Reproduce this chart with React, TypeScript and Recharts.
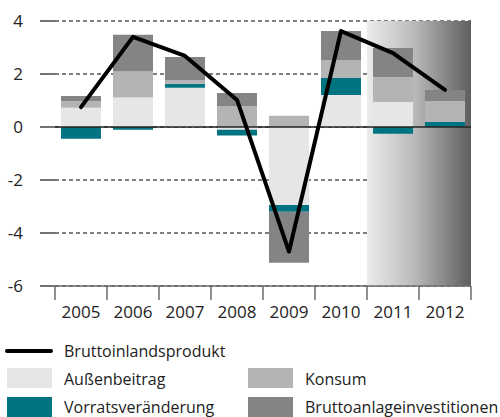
import React from 'react';
import {
  ComposedChart,
  Bar,
  Line,
  XAxis,
  YAxis,
  CartesianGrid,
  ReferenceArea,
  ReferenceLine,
} from 'recharts';

const years = ['2005', '2006', '2007', '2008', '2009', '2010', '2011', '2012'];
const bip = [0.75, 3.4, 2.68, 1.02, -4.7, 3.62, 2.79, 1.4];
const aussenbeitrag = [0.73, 1.11, 1.48, -0.1, -2.94, 1.21, 0.94, 0];
const vorrat = [-0.44, -0.1, 0.15, -0.22, -0.26, 0.64, -0.25, 0.19];
const konsum = [0.25, 0.98, 0.14, 0.79, 0.42, 0.68, 0.95, 0.79];
const brutto = [0.19, 1.39, 0.87, 0.49, -1.92, 1.09, 1.09, 0.42];
const yTicks = [-6, -4, -2, 0, 2, 4];
const forecastYears = ['2011', '2012'];

const data = years.map((y, i) => ({
  year: y,
  bip: bip[i],
  aussen: aussenbeitrag[i],
  vorrat: vorrat[i],
  konsum: konsum[i],
  brutto: brutto[i],
}));

const C_LIGHT = '#e6e6e6';
const C_KONSUM = '#b3b4b6';
const C_TEAL = '#007480';
const C_DARK = '#838485';
const FONT = '"Open Sans", "Noto Sans", sans-serif';

const XTick = (props: any) => {
  const { x, y, payload, index } = props;
  const off = payload.offset ?? 26;
  const last = index === years.length - 1;
  return (
    <g>
      <line x1={x - off} x2={x - off} y1={y} y2={y + 14} stroke="#6b6b6b" strokeWidth={1.5} />
      {last && <line x1={x + off} x2={x + off} y1={y} y2={y + 14} stroke="#6b6b6b" strokeWidth={1.5} />}
      <text x={x} y={y + 32} textAnchor="middle" fill="#222" fontSize={17} fontFamily={FONT}>
        {payload.value}
      </text>
    </g>
  );
};

const legendRow1 = [{ label: 'Bruttoinlandsprodukt' }];
const legendBoxes = [
  { label: 'Außenbeitrag', color: C_LIGHT, col: 0, row: 0 },
  { label: 'Konsum', color: C_KONSUM, col: 1, row: 0 },
  { label: 'Vorratsveränderung', color: C_TEAL, col: 0, row: 1 },
  { label: 'Bruttoanlageinvestitionen', color: C_DARK, col: 1, row: 1 },
];

export default function App() {
  return (
    <div style={{ position: 'absolute', left: 0, top: 0, width: 500, height: 417, overflow: 'hidden', background: '#fff', fontFamily: FONT }}>
      <ComposedChart
        width={500}
        height={417}
        data={data}
        stackOffset="sign"
        margin={{ top: 21, right: 29, bottom: 101, left: 0 }}
        barSize={40}
      >
        <defs>
          <linearGradient id="fcGrad" x1="0" y1="0" x2="1" y2="0">
            <stop offset="0%" stopColor="#ebecec" />
            <stop offset="45%" stopColor="#b9babb" />
            <stop offset="100%" stopColor="#5d5e60" />
          </linearGradient>
        </defs>
        <ReferenceArea
          x1={forecastYears[0]}
          x2={forecastYears[1]}
          y1={-6}
          y2={4}
          fill="url(#fcGrad)"
          fillOpacity={1}
          stroke="none"
        />
        <CartesianGrid vertical={false} stroke="#000" strokeDasharray="4 3" strokeWidth={1} />
        <ReferenceLine y={0} stroke="#222" strokeWidth={1.5} />
        <XAxis
          dataKey="year"
          tickLine={false}
          tickSize={0}
          tickMargin={0}
          axisLine={{ stroke: '#6b6b6b', strokeWidth: 1.5 }}
          tick={<XTick />}
          interval={0}
          height={30}
        />
        <YAxis
          domain={[-6, 4]}
          ticks={yTicks}
          width={55}
          axisLine={false}
          tickSize={15}
          tickMargin={17}
          tickLine={{ stroke: '#444', strokeWidth: 1.5 }}
          tick={{ fill: '#222', fontSize: 17, fontFamily: FONT }}
        />
        <Bar dataKey="aussen" stackId="s" fill={C_LIGHT} isAnimationActive={false} />
        <Bar dataKey="vorrat" stackId="s" fill={C_TEAL} isAnimationActive={false} />
        <Bar dataKey="konsum" stackId="s" fill={C_KONSUM} isAnimationActive={false} />
        <Bar dataKey="brutto" stackId="s" fill={C_DARK} isAnimationActive={false} />
        <Line
          dataKey="bip"
          type="linear"
          stroke="#000"
          strokeWidth={4}
          dot={false}
          strokeLinecap="round"
          strokeLinejoin="round"
          isAnimationActive={false}
        />
      </ComposedChart>
      <div style={{ position: 'absolute', left: 5, top: 349, width: 48, height: 4, background: '#000', borderRadius: 2 }} />
      {legendRow1.map((l) => (
        <div key={l.label} style={{ position: 'absolute', left: 64, top: 341, fontSize: 16, lineHeight: '20px', color: '#222', whiteSpace: 'nowrap' }}>
          {l.label}
        </div>
      ))}
      {legendBoxes.map((l) => (
        <React.Fragment key={l.label}>
          <div style={{ position: 'absolute', left: l.col === 0 ? 7 : 248, top: 368 + l.row * 29, width: 45, height: 20, background: l.color }} />
          <div style={{ position: 'absolute', left: l.col === 0 ? 64 : 305, top: 369 + l.row * 28, fontSize: 16, lineHeight: '20px', color: '#222', whiteSpace: 'nowrap' }}>
            {l.label}
          </div>
        </React.Fragment>
      ))}
    </div>
  );
}
